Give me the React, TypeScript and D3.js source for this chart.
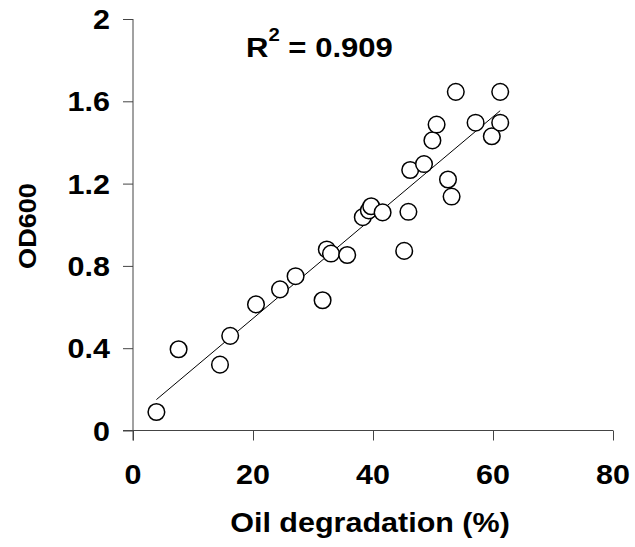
import React, { useEffect, useRef } from 'react';
import * as d3 from 'd3';

// values
const oilDegradation = [
  3.9, 7.6, 14.5, 16.2, 20.5, 24.5, 27.1, 31.6, 32.3, 33.0,
  35.7, 38.3, 39.3, 39.7, 41.6, 45.2, 45.9, 46.2, 48.5, 49.9,
  50.6, 52.5, 53.1, 53.8, 57.1, 59.8, 61.2, 61.2,
];
const od600 = [
  0.09, 0.395, 0.32, 0.46, 0.613, 0.686, 0.75, 0.633, 0.88, 0.86,
  0.853, 1.037, 1.07, 1.09, 1.06, 0.873, 1.063, 1.266, 1.295, 1.41,
  1.487, 1.22, 1.137, 1.646, 1.496, 1.43, 1.646, 1.496,
];
const xTicks = [0, 20, 40, 60, 80];
const yTicks = [0, 0.4, 0.8, 1.2, 1.6, 2];
const rSquared = '0.909';

const width = 635;
const height = 547;

// the source figure's lettering is a little wider than Arial
const stretch = 1.13;

const App = () => {
  const svgRef = useRef<SVGSVGElement>(null);

  useEffect(() => {
    const svg = d3.select(svgRef.current);
    svg.selectAll('*').remove();

    const font = '"Liberation Sans", Arial, sans-serif';

    const x = d3.scaleLinear().domain([0, 80]).range([133, 613]);
    const y = d3.scaleLinear().domain([0, 2]).range([430.5, 19]);

    const points = oilDegradation.map((v, i) => ({ x: v, y: od600[i] }));

    // least squares fit
    const mx = d3.mean(points, d => d.x) as number;
    const my = d3.mean(points, d => d.y) as number;
    const sxy = d3.sum(points, d => (d.x - mx) * (d.y - my));
    const sxx = d3.sum(points, d => (d.x - mx) ** 2);
    const slope = sxy / sxx;
    const intercept = my - slope * mx;
    const [x0, x1] = d3.extent(points, d => d.x) as [number, number];

    const axisColor = '#444';

    const label = (g, tx, ty, anchor, size, rotate = 0) =>
      g.append('text')
        .attr('transform', `translate(${tx},${ty}) rotate(${rotate}) scale(${stretch},1)`)
        .attr('text-anchor', anchor)
        .style('font-family', font)
        .style('font-size', `${size}px`)
        .style('font-weight', 'bold')
        .attr('fill', '#000');

    // y axis
    const yAxis = svg.append('g').attr('transform', `translate(${x(0)},0)`);
    yAxis.call(d3.axisLeft(y).tickValues(yTicks).tickSize(10).tickSizeOuter(0).tickFormat(() => ''));
    yAxis.select('.domain').attr('stroke', axisColor).attr('d', `M0,${y(2)}V${y(0) + 10}`);
    yAxis.selectAll('line').attr('stroke', axisColor);
    yTicks.forEach(t => label(svg, 110, y(t) + 10, 'end', 27).text(String(t)));

    // x axis
    const xAxis = svg.append('g').attr('transform', `translate(0,${y(0)})`);
    xAxis.call(d3.axisBottom(x).tickValues(xTicks).tickSize(10).tickSizeOuter(0).tickFormat(() => ''));
    xAxis.select('.domain').attr('stroke', axisColor).attr('d', `M${x(0) - 10},0H${x(80)}`);
    xAxis.selectAll('line').attr('stroke', axisColor);
    xTicks.forEach(t => label(svg, x(t), 484, 'middle', 27).text(String(t)));

    // trend line
    svg.append('line')
      .attr('x1', x(x0))
      .attr('y1', y(slope * x0 + intercept))
      .attr('x2', x(x1))
      .attr('y2', y(slope * x1 + intercept))
      .attr('stroke', '#000')
      .attr('stroke-width', 1);

    // points
    svg.append('g')
      .selectAll('circle')
      .data(points)
      .join('circle')
      .attr('cx', d => x(d.x))
      .attr('cy', d => y(d.y))
      .attr('r', 8.3)
      .attr('fill', '#fff')
      .attr('stroke', '#000')
      .attr('stroke-width', 1.5);

    // R squared
    const rt = label(svg, 246, 57, 'start', 27.5);
    rt.append('tspan').text('R');
    rt.append('tspan').attr('dy', -16).style('font-size', '18px').text('2');
    rt.append('tspan').attr('dy', 16).text(` = ${rSquared}`);

    // titles
    label(svg, 370, 532, 'middle', 27).text('Oil degradation (%)');
    label(svg, 36, 226, 'middle', 24, -90).text('OD600');
  }, []);

  return (
    <svg
      ref={svgRef}
      width={width}
      height={height}
      style={{ position: 'absolute', left: 0, top: 0, background: '#fff' }}
    />
  );
};

export default App;
